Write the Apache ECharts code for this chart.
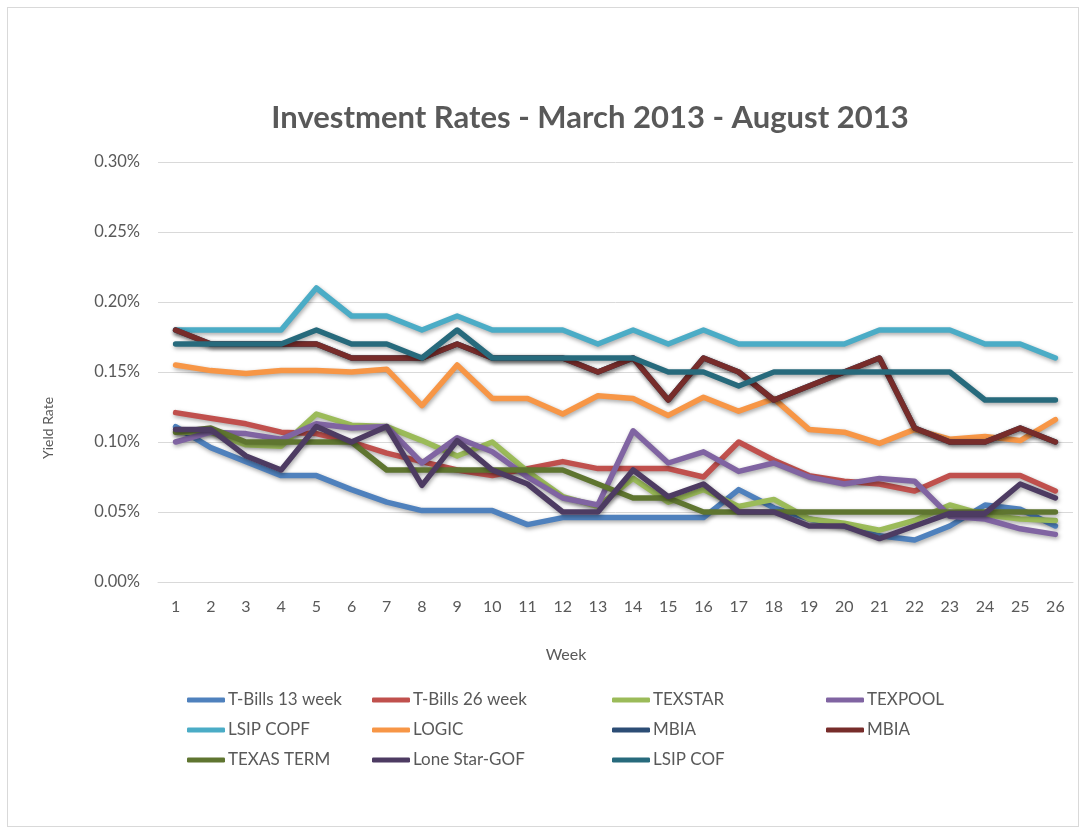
<!DOCTYPE html>
<html>
<head>
<meta charset="utf-8">
<script src="https://cdn.jsdelivr.net/npm/echarts@6/dist/echarts.min.js"></script>
<style>
html,body{margin:0;padding:0;background:#fff;}
#frame{position:absolute;left:7px;top:7px;width:1072px;height:820px;border:1px solid #d9d9d9;box-sizing:border-box;}
#chart{position:absolute;left:0;top:0;width:1086px;height:831px;}
</style>
</head>
<body>
<div id="frame"></div>
<div id="chart"></div>
<script>
const weeks = ['1','2','3','4','5','6','7','8','9','10','11','12','13','14','15','16','17','18','19','20','21','22','23','24','25','26'];
const yTicks = [0, 0.05, 0.10, 0.15, 0.20, 0.25, 0.30];

const tBills13 = [0.111,0.096,0.086,0.076,0.076,0.066,0.057,0.051,0.051,0.051,0.041,0.046,0.046,0.046,0.046,0.046,0.066,0.053,0.045,0.040,0.033,0.030,0.040,0.055,0.052,0.040];
const tBills26 = [0.121,0.117,0.113,0.107,0.106,0.100,0.092,0.086,0.080,0.076,0.081,0.086,0.081,0.081,0.081,0.075,0.100,0.087,0.076,0.072,0.070,0.065,0.076,0.076,0.076,0.065];
const texstar = [0.107,0.107,0.098,0.097,0.120,0.112,0.111,0.101,0.090,0.100,0.079,0.061,0.054,0.074,0.057,0.066,0.054,0.059,0.045,0.042,0.037,0.044,0.055,0.048,0.045,0.044];
const texpool = [0.100,0.107,0.106,0.102,0.113,0.110,0.111,0.085,0.103,0.093,0.075,0.060,0.055,0.108,0.085,0.093,0.079,0.085,0.075,0.070,0.074,0.072,0.047,0.045,0.038,0.034];
const lsipCopf = [0.18,0.18,0.18,0.18,0.21,0.19,0.19,0.18,0.19,0.18,0.18,0.18,0.17,0.18,0.17,0.18,0.17,0.17,0.17,0.17,0.18,0.18,0.18,0.17,0.17,0.16];
const logic = [0.155,0.151,0.149,0.151,0.151,0.150,0.152,0.126,0.155,0.131,0.131,0.120,0.133,0.131,0.119,0.132,0.122,0.131,0.109,0.107,0.099,0.109,0.102,0.104,0.101,0.116];
const mbiaBlue = [0.18,0.17,0.17,0.17,0.17,0.16,0.16,0.16,0.17,0.16,0.16,0.16,0.15,0.16,0.13,0.16,0.15,0.13,0.14,0.15,0.16,0.11,0.10,0.10,0.11,0.10];
const mbiaRed = [0.18,0.17,0.17,0.17,0.17,0.16,0.16,0.16,0.17,0.16,0.16,0.16,0.15,0.16,0.13,0.16,0.15,0.13,0.14,0.15,0.16,0.11,0.10,0.10,0.11,0.10];
const texasTerm = [0.107,0.110,0.100,0.100,0.100,0.100,0.080,0.080,0.080,0.080,0.080,0.080,0.070,0.060,0.060,0.050,0.050,0.050,0.050,0.050,0.050,0.050,0.050,0.050,0.050,0.050];
const loneStar = [0.109,0.109,0.090,0.080,0.111,0.100,0.111,0.069,0.101,0.080,0.070,0.050,0.050,0.080,0.061,0.070,0.050,0.050,0.040,0.040,0.031,0.040,0.049,0.049,0.070,0.060];
const lsipCof = [0.17,0.17,0.17,0.17,0.18,0.17,0.17,0.16,0.18,0.16,0.16,0.16,0.16,0.16,0.15,0.15,0.14,0.15,0.15,0.15,0.15,0.15,0.15,0.13,0.13,0.13];

const seriesDefs = [
  {name:'T-Bills 13 week', data:tBills13, color:'#4F81BD'},
  {name:'T-Bills 26 week', data:tBills26, color:'#C0504D'},
  {name:'TEXSTAR', data:texstar, color:'#9BBB59'},
  {name:'TEXPOOL', data:texpool, color:'#8064A2'},
  {name:'LSIP COPF', data:lsipCopf, color:'#4BACC6'},
  {name:'LOGIC', data:logic, color:'#F79646'},
  {name:'MBIA', data:mbiaBlue, color:'#2C4D75'},
  {name:'MBIA ', data:mbiaRed, color:'#772C2A'},
  {name:'TEXAS TERM', data:texasTerm, color:'#5F7530'},
  {name:'Lone Star-GOF', data:loneStar, color:'#4D3B62'},
  {name:'LSIP COF', data:lsipCof, color:'#276A7C'}
];

const FONT = 'Lato, "Liberation Sans", sans-serif';
const TXT = '#595959';

function legendCol(left, names){
  return {
    orient:'vertical', left:left, top:691, itemGap:12, padding:0,
    itemWidth:38, itemHeight:5, icon:'roundRect',
    data:names, selectedMode:false,
    formatter:function(n){return n.trim();},
    textStyle:{fontFamily:FONT, fontSize:17, color:TXT, lineHeight:18, padding:[0,0,0,-2]}
  };
}

const chart = echarts.init(document.getElementById('chart'), null, {renderer:'canvas'});
chart.setOption({
  backgroundColor:'transparent',
  animation:false,
  grid:{left:158, right:13, top:162, bottom:249, containLabel:false},
  xAxis:{
    type:'category', data:weeks, boundaryGap:true,
    axisLine:{show:true, lineStyle:{color:'#d9d9d9', width:1}},
    axisTick:{show:false},
    axisLabel:{fontFamily:FONT, fontSize:16, color:TXT, margin:17}
  },
  yAxis:{
    type:'value', min:0, max:0.30, interval:0.05,
    axisLine:{show:false}, axisTick:{show:false},
    splitLine:{lineStyle:{color:'#d9d9d9', width:1}},
    axisLabel:{fontFamily:FONT, fontSize:16.5, color:TXT, margin:18,
      formatter:function(v){ const t = yTicks.find(x=>Math.abs(x-v)<1e-9); return (t!==undefined?t:v).toFixed(2)+'%'; }}
  },
  legend:[
    legendCol(187, ['T-Bills 13 week','LSIP COPF','TEXAS TERM']),
    legendCol(372, ['T-Bills 26 week','LOGIC','Lone Star-GOF']),
    legendCol(612, ['TEXSTAR','MBIA','LSIP COF']),
    legendCol(826, ['TEXPOOL','MBIA '])
  ],
  graphic:[
    {type:'text', x:590, y:118, style:{text:'Investment Rates - March 2013 - August 2013', fontFamily:FONT, fontSize:31, fontWeight:'bold', fill:TXT, textAlign:'center', textVerticalAlign:'middle'}},
    {type:'text', x:566, y:655, style:{text:'Week', fontFamily:FONT, fontSize:16, fill:TXT, textAlign:'center', textVerticalAlign:'middle'}},
    {type:'text', x:48, y:428, rotation:Math.PI/2, style:{text:'Yield Rate', fontFamily:FONT, fontSize:14, fill:TXT, textAlign:'center', textVerticalAlign:'middle'}}
  ],
  series: seriesDefs.map(function(s){
    return {
      name:s.name, type:'line', data:s.data, showSymbol:false, symbol:'none',
      color:s.color,
      lineStyle:{color:s.color, width:5.5, cap:'round', join:'round',
        shadowColor:'rgba(0,0,0,0.35)', shadowBlur:4, shadowOffsetX:1, shadowOffsetY:2},
      emphasis:{disabled:true}
    };
  })
});
</script>
</body>
</html>
